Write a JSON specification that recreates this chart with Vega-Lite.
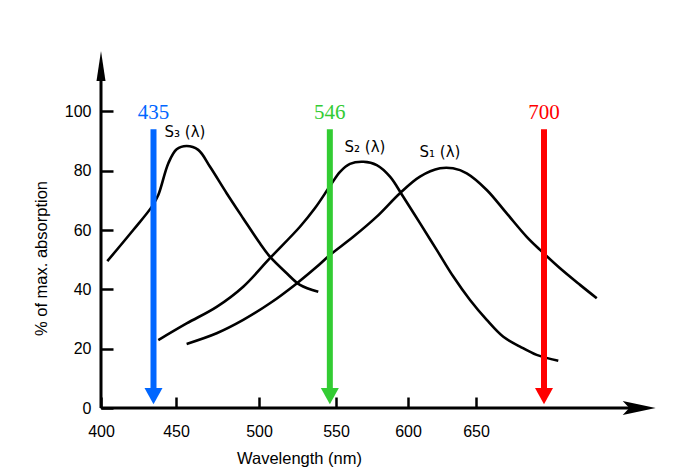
{
  "$schema": "https://vega.github.io/schema/vega-lite/v6.json",
  "autosize": {"type": "none"},
  "padding": {"left": 101, "top": 52, "right": 0, "bottom": 65},
  "width": 576,
  "height": 356,
  "background": "white",
  "config": {"view": {"stroke": null}, "font": "Liberation Sans"},
  "datasets": {
    "curves": [
      {"curve": "S3", "wl": 404.2, "pct": 49.5},
      {"curve": "S3", "wl": 421.5, "pct": 60.0},
      {"curve": "S3", "wl": 433.8, "pct": 67.8},
      {"curve": "S3", "wl": 438.2, "pct": 71.8},
      {"curve": "S3", "wl": 444.9, "pct": 82.5},
      {"curve": "S3", "wl": 450.4, "pct": 87.2},
      {"curve": "S3", "wl": 456.4, "pct": 88.3},
      {"curve": "S3", "wl": 463.4, "pct": 87.0},
      {"curve": "S3", "wl": 470.5, "pct": 81.3},
      {"curve": "S3", "wl": 480.5, "pct": 72.4},
      {"curve": "S3", "wl": 490.5, "pct": 63.9},
      {"curve": "S3", "wl": 500.6, "pct": 55.5},
      {"curve": "S3", "wl": 507.1, "pct": 51.0},
      {"curve": "S3", "wl": 518.0, "pct": 45.4},
      {"curve": "S3", "wl": 526.6, "pct": 41.5},
      {"curve": "S3", "wl": 538.5, "pct": 39.2},
      {"curve": "S2", "wl": 438.2, "pct": 22.9},
      {"curve": "S2", "wl": 456.4, "pct": 28.5},
      {"curve": "S2", "wl": 474.5, "pct": 34.1},
      {"curve": "S2", "wl": 490.5, "pct": 40.9},
      {"curve": "S2", "wl": 507.1, "pct": 50.5},
      {"curve": "S2", "wl": 526.6, "pct": 61.1},
      {"curve": "S2", "wl": 536.4, "pct": 67.4},
      {"curve": "S2", "wl": 546.1, "pct": 74.8},
      {"curve": "S2", "wl": 552.8, "pct": 79.6},
      {"curve": "S2", "wl": 559.7, "pct": 82.3},
      {"curve": "S2", "wl": 569.0, "pct": 83.0},
      {"curve": "S2", "wl": 578.3, "pct": 81.9},
      {"curve": "S2", "wl": 587.5, "pct": 78.0},
      {"curve": "S2", "wl": 596.7, "pct": 71.2},
      {"curve": "S2", "wl": 608.8, "pct": 62.3},
      {"curve": "S2", "wl": 621.1, "pct": 53.3},
      {"curve": "S2", "wl": 633.3, "pct": 44.3},
      {"curve": "S2", "wl": 645.6, "pct": 36.4},
      {"curve": "S2", "wl": 657.9, "pct": 29.7},
      {"curve": "S2", "wl": 670.1, "pct": 24.0},
      {"curve": "S2", "wl": 682.4, "pct": 20.7},
      {"curve": "S2", "wl": 694.6, "pct": 17.9},
      {"curve": "S2", "wl": 710.5, "pct": 15.9},
      {"curve": "S1", "wl": 456.4, "pct": 21.6},
      {"curve": "S1", "wl": 474.5, "pct": 25.2},
      {"curve": "S1", "wl": 490.5, "pct": 29.7},
      {"curve": "S1", "wl": 507.1, "pct": 35.3},
      {"curve": "S1", "wl": 524.5, "pct": 42.0},
      {"curve": "S1", "wl": 537.5, "pct": 47.6},
      {"curve": "S1", "wl": 546.1, "pct": 51.6},
      {"curve": "S1", "wl": 562.0, "pct": 57.7},
      {"curve": "S1", "wl": 578.3, "pct": 64.5},
      {"curve": "S1", "wl": 594.4, "pct": 72.4},
      {"curve": "S1", "wl": 608.8, "pct": 78.0},
      {"curve": "S1", "wl": 623.5, "pct": 80.8},
      {"curve": "S1", "wl": 633.1, "pct": 80.8},
      {"curve": "S1", "wl": 643.2, "pct": 79.1},
      {"curve": "S1", "wl": 657.9, "pct": 73.5},
      {"curve": "S1", "wl": 672.6, "pct": 65.6},
      {"curve": "S1", "wl": 687.3, "pct": 57.7},
      {"curve": "S1", "wl": 697.1, "pct": 53.3},
      {"curve": "S1", "wl": 711.8, "pct": 47.1},
      {"curve": "S1", "wl": 726.5, "pct": 41.5},
      {"curve": "S1", "wl": 738.8, "pct": 37.0}
    ],
    "arrows": [
      {"name": "435", "wl": 435},
      {"name": "546", "wl": 546},
      {"name": "700", "wl": 700}
    ],
    "curveLabels": [
      {"label": "S₃ (λ)", "wl": 455.4, "pct": 93.1},
      {"label": "S₂ (λ)", "wl": 570.1, "pct": 88.1},
      {"label": "S₁ (λ)", "wl": 623.5, "pct": 86.4}
    ]
  },
  "layer": [
    {
      "data": {"name": "curves"},
      "mark": {"type": "line", "color": "black", "strokeWidth": 2.6, "interpolate": "catmull-rom"},
      "encoding": {
        "x": {
          "field": "wl", "type": "quantitative",
          "scale": {"domain": [400, 450, 500, 550, 600, 650], "range": [0, 75, 158, 235, 307, 375], "zero": false, "nice": false},
          "axis": {
            "title": "Wavelength (nm)", "values": [400, 450, 500, 550, 600, 650],
            "domain": false, "grid": false, "tickSize": -11, "tickWidth": 2.5, "tickColor": "black",
            "labelFontSize": 16, "labelColor": "black", "labelPadding": 26, "labelFont": "Liberation Sans",
            "labelFlush": false, "labelOverlap": false,
            "titleFont": "Liberation Sans", "titleFontSize": 16.5, "titleFontWeight": "normal", "titleColor": "black",
            "titleX": 198, "titleY": 50, "titleBaseline": "middle", "titleAlign": "center"
          }
        },
        "y": {
          "field": "pct", "type": "quantitative",
          "scale": {"domain": [0, 120], "nice": false},
          "axis": {
            "title": "% of max. absorption", "values": [0, 20, 40, 60, 80, 100],
            "domain": false, "grid": false, "tickSize": -12, "tickWidth": 2.5, "tickColor": "black",
            "labelFontSize": 16, "labelColor": "black", "labelPadding": 22, "labelFont": "Liberation Sans",
            "labelFlush": false, "labelOverlap": false,
            "titleFont": "Liberation Sans", "titleFontSize": 16.5, "titleFontWeight": "normal", "titleColor": "black",
            "titleX": -60, "titleY": 206, "titleBaseline": "middle", "titleAlign": "center", "titleAngle": -90
          }
        },
        "detail": {"field": "curve"}
      }
    },
    {
      "data": {"values": [{}]},
      "mark": {"type": "rule", "color": "black", "strokeWidth": 3},
      "encoding": {
        "x": {"datum": 400, "type": "quantitative"},
        "x2": {"datum": 765},
        "y": {"datum": 0, "type": "quantitative"}
      }
    },
    {
      "data": {"values": [{}]},
      "mark": {"type": "rule", "color": "black", "strokeWidth": 3},
      "encoding": {
        "x": {"datum": 400, "type": "quantitative"},
        "y": {"datum": 0, "type": "quantitative"},
        "y2": {"datum": 112}
      }
    },
    {
      "data": {"values": [{}]},
      "mark": {"type": "point", "shape": "M1,0L-1,-0.42L-0.6,0L-1,0.42Z", "filled": true, "color": "black", "opacity": 1, "size": 1089},
      "encoding": {
        "x": {"datum": 770, "type": "quantitative"},
        "y": {"datum": 0, "type": "quantitative"}
      }
    },
    {
      "data": {"values": [{}]},
      "mark": {"type": "point", "shape": "M0,-1L0.3,1L-0.3,1Z", "filled": true, "color": "black", "opacity": 1, "size": 900},
      "encoding": {
        "x": {"datum": 400, "type": "quantitative"},
        "y": {"datum": 115.3, "type": "quantitative"}
      }
    },
    {
      "data": {"name": "arrows"},
      "mark": {"type": "rule", "strokeWidth": 6},
      "encoding": {
        "x": {"field": "wl", "type": "quantitative"},
        "y": {"datum": 94, "type": "quantitative"},
        "y2": {"datum": 6},
        "color": {"field": "name", "type": "nominal", "scale": {"domain": ["435", "546", "700"], "range": ["#0066FF", "#33CC33", "#FF0000"]}, "legend": null}
      }
    },
    {
      "data": {"name": "arrows"},
      "mark": {"type": "point", "shape": "M-1,-0.9L1,-0.9L0,0.9Z", "filled": true, "opacity": 1, "size": 324},
      "encoding": {
        "x": {"field": "wl", "type": "quantitative"},
        "y": {"datum": 4, "type": "quantitative"},
        "color": {"field": "name", "type": "nominal", "legend": null}
      }
    },
    {
      "data": {"name": "arrows"},
      "mark": {"type": "text", "font": "Liberation Serif", "fontSize": 21, "baseline": "middle", "align": "center"},
      "encoding": {
        "x": {"field": "wl", "type": "quantitative"},
        "y": {"datum": 99.4, "type": "quantitative"},
        "text": {"field": "name"},
        "color": {"field": "name", "type": "nominal", "legend": null}
      }
    },
    {
      "data": {"name": "curveLabels"},
      "mark": {"type": "text", "font": "DejaVu Sans", "fontSize": 15, "baseline": "middle", "align": "center", "color": "black"},
      "encoding": {
        "x": {"field": "wl", "type": "quantitative"},
        "y": {"field": "pct", "type": "quantitative"},
        "text": {"field": "label"}
      }
    }
  ]
}
